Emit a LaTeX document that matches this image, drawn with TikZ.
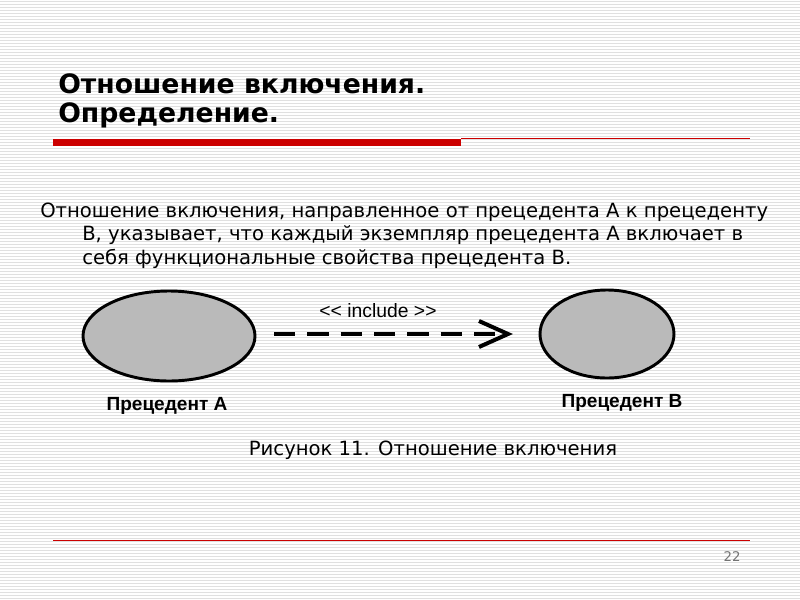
\documentclass[tikz,border=0pt]{standalone}
\usepackage{fontspec}
\setmainfont{DejaVu Sans}
\newfontfamily\arial{Liberation Sans}
\usetikzlibrary{arrows.meta,shapes.geometric}
\definecolor{slred}{RGB}{204,0,0}
\tikzset{uc/.style={ellipse,draw=black,line width=2.2pt,fill=black!27,inner sep=0pt},
 uclab/.style={font=\arial\bfseries\fontsize{14.3pt}{16pt}\selectfont},
 body/.style={anchor=west,inner sep=0pt,font=\fontsize{14.7pt}{17pt}\selectfont}}
\begin{document}
\begin{tikzpicture}[x=0.75pt,y=-0.75pt]
\useasboundingbox (0,0) rectangle (800,600);
\fill[white] (0,0) rectangle (800,600);
\foreach \i in {0,3,...,597} \draw[black!12,line width=0.5pt] (0,\i+1) -- (800,\i+1);
\node[anchor=west,inner sep=0pt,font=\bfseries\fontsize{20pt}{23pt}\selectfont] (t1) at (58,84) {Отношение включения.};
\node[anchor=west,inner sep=0pt,font=\bfseries\fontsize{20pt}{23pt}\selectfont] (t2) at (58,115) {Определение.};
\fill[slred] (53,138.5) rectangle (461,146);
\draw[slred,line width=0.6pt] (461,138) -- (750,138);
\draw[slred,line width=0.6pt] (53,540) -- (750,540);
\node[font=\fontsize{10pt}{12pt}\selectfont,text=black!55] (pg) at (732,557) {22};
\node[body] (b1) at (40,212) {Отношение включения, направленное от прецедента А к прецеденту};
\node[body] (b2) at (82,235) {В, указывает, что каждый экземпляр прецедента А включает в};
\node[body] (b3) at (82,259) {себя функциональные свойства прецедента В.};
\node[uc,minimum width=129pt,minimum height=67.5pt] (A) at (169,336) {};
\node[uc,minimum width=100.5pt,minimum height=66pt] (B) at (607,334) {};
\coordinate (as) at (274,334);
\coordinate (ae) at (508,334);
\draw[line width=3pt,dash pattern=on 16pt off 9pt] (as) -- (ae);
\draw[line width=3pt,line join=miter] (479,321) -- (ae) -- (479,347);
\node[font=\arial\fontsize{14.5pt}{16pt}\selectfont] (inc) at (378,311) {<< include >>};
\node[uclab] (la) at (167,406) {Прецедент A};
\node[uclab] (lb) at (622,403) {Прецедент B};
\node[font=\fontsize{14.7pt}{17pt}\selectfont] (cap) at (433,450) {Рисунок 11. Отношение включения};
\end{tikzpicture}
\end{document}
